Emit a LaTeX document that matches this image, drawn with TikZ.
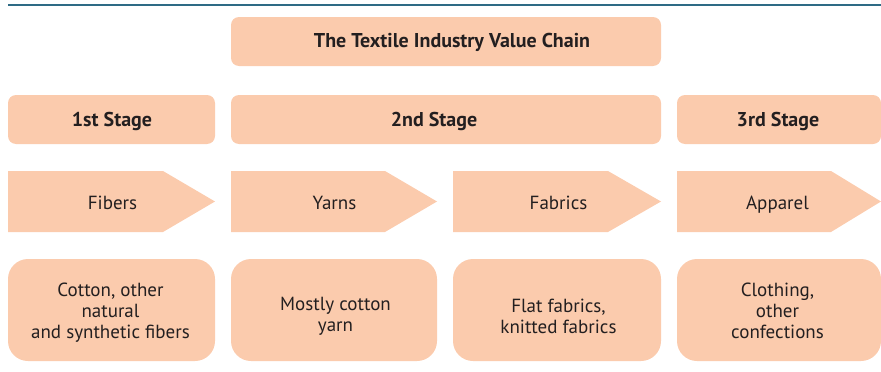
\documentclass[tikz,border=0pt]{standalone}
\usepackage{fontspec}
\setmainfont{PT Sans}
\newfontfamily\headfont{PT Sans}
\definecolor{boxfill}{HTML}{FBCBAD}
\definecolor{txt}{HTML}{231F20}
\definecolor{rulec}{HTML}{2E6B85}
\begin{document}
\begin{tikzpicture}[x=1pt,y=-1pt,
  headbox/.style={fill=boxfill,draw=none,rounded corners=8pt},
  headtext/.style={text=txt,font=\headfont\bfseries\fontsize{20}{24}\selectfont},
  infobox/.style={fill=boxfill,draw=none,rounded corners=20pt},
  infotext/.style={text=txt,align=center,font=\fontsize{19}{21}\selectfont},
  arrowlabel/.style={text=txt,anchor=base,font=\fontsize{19}{22}\selectfont}]
\useasboundingbox (0,0) rectangle (881,372);
\coordinate (rl) at (8,5);
\coordinate (rr) at (881,5);
\draw[rulec,line width=2pt] (rl) -- (rr);
% header boxes
\path[headbox] (231,17) rectangle (661,66);
\node[headtext] (title) at (452,42) {The Textile Industry Value Chain};
\path[headbox] (8,95) rectangle (215,144);
\node[headtext] (s1) at (112,121) {1st Stage};
\path[headbox] (231,95) rectangle (661,144);
\node[headtext] (s2) at (434,121) {2nd Stage};
\path[headbox] (677,95) rectangle (881,144);
\node[headtext] (s3) at (778,121) {3rd Stage};
% arrows
\foreach \a/\b/\s/\t/\nm/\cx in {8/215/163/Fibers/a1/112.5, 231/437/385/Yarns/a2/334.5, 453/661/608/Fabrics/a3/558.5, 677/881/831/Apparel/a4/777.5}{
  \fill[boxfill] (\a,171) -- (\s,171) -- (\b,201.5) -- (\s,232) -- (\a,232) -- cycle;
  \node[arrowlabel] (\nm) at (\cx,209.5) {\t};
}
% info boxes
\path[infobox] (8,259) rectangle (215,361);
\node[infotext] (i1) at (110.5,313) {Cotton, other\\natural\\and synthetic fibers};
\path[infobox] (231,259) rectangle (437,361);
\node[infotext] (i2) at (335.5,316.5) {Mostly cotton\\yarn};
\path[infobox] (453,259) rectangle (661,361);
\node[infotext] (i3) at (558.5,316.5) {Flat fabrics,\\knitted fabrics};
\path[infobox] (677,259) rectangle (881,361);
\node[infotext] (i4) at (777.5,311) {Clothing,\\other\\confections};
\end{tikzpicture}
\end{document}
